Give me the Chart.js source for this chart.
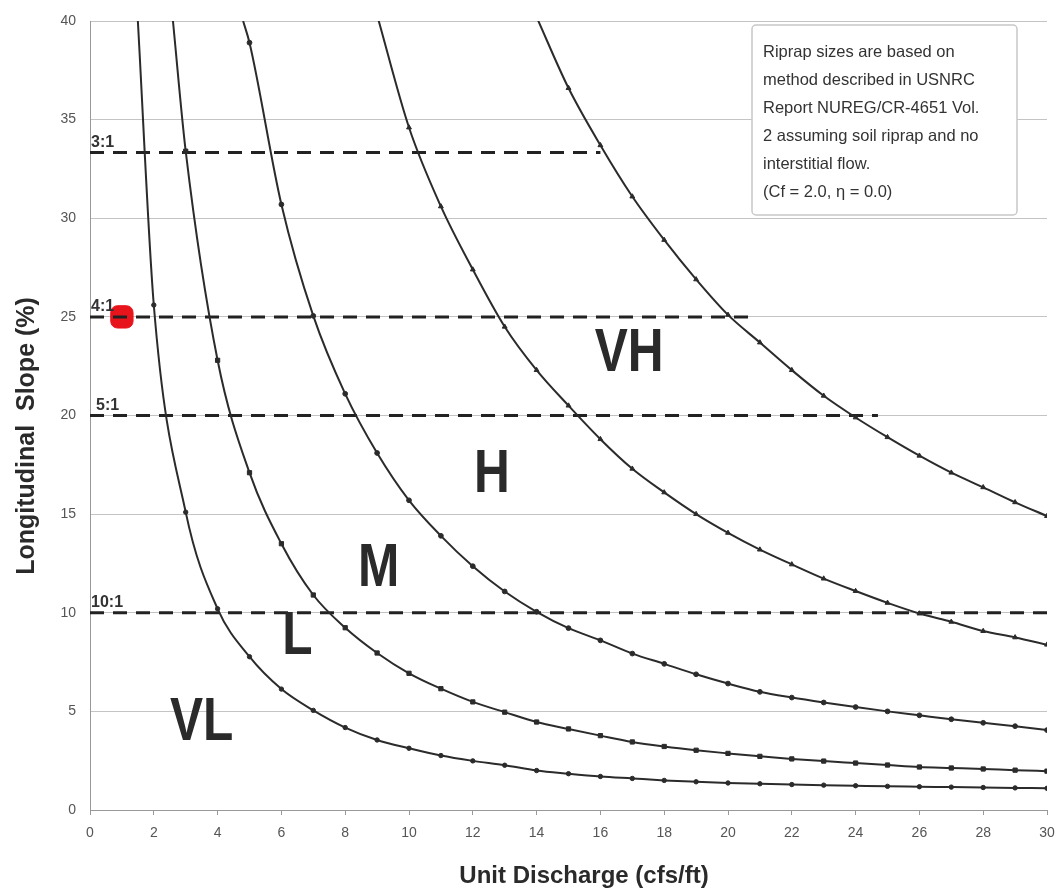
<!DOCTYPE html>
<html lang="en">
  <head>
    <meta charset="UTF-8" />
    <title>Riprap Size Chart</title>
    <script src="https://cdn.jsdelivr.net/npm/chart.js"></script>
    <style>
      html, body { margin: 0; padding: 0; background: #fff; overflow: hidden; }
      canvas { display: block; }
    </style>
  </head>
  <body>
    <canvas id="riprapChart" width="1056" height="891"></canvas>

    <script>
      // unit discharge (cfs/ft) at the curve markers
      const unitDischarge = [1, 2, 3, 4, 5, 6, 7, 8, 9, 10, 11, 12, 13, 14, 15,
        16, 17, 18, 19, 20, 21, 22, 23, 24, 25, 26, 27, 28, 29, 30];

      // longitudinal slope (%) of each size boundary
      const vlBoundary = [null, 25.6, 15.1, 10.2, 7.77, 6.13, 5.05, 4.18, 3.55, 3.13,
        2.76, 2.49, 2.27, 2.0, 1.84, 1.7, 1.6, 1.5, 1.43, 1.37,
        1.33, 1.29, 1.26, 1.23, 1.2, 1.18, 1.16, 1.14, 1.12, 1.1];
      const lBoundary = [null, null, 33.4, 22.8, 17.1, 13.5, 10.9, 9.24, 7.96, 6.93,
        6.15, 5.48, 4.96, 4.46, 4.11, 3.77, 3.45, 3.22, 3.03, 2.87,
        2.72, 2.59, 2.48, 2.38, 2.28, 2.18, 2.13, 2.08, 2.02, 1.97];
      const mBoundary = [null, null, null, null, 38.9, 30.7, 25.05, 21.1, 18.1, 15.7,
        13.9, 12.36, 11.08, 10.05, 9.22, 8.6, 7.93, 7.41, 6.88, 6.41,
        5.99, 5.7, 5.45, 5.22, 5.0, 4.8, 4.6, 4.42, 4.25, 4.05];
      const hBoundary = [null, null, null, null, null, null, null, null, 40.3, 34.6,
        30.6, 27.4, 24.5, 22.3, 20.5, 18.8, 17.3, 16.1, 15.0, 14.05,
        13.2, 12.45, 11.73, 11.1, 10.5, 9.96, 9.54, 9.07, 8.75, 8.38];
      const vhBoundary = [null, null, null, null, null, null, null, null, null, null,
        null, null, null, 40.2, 36.6, 33.7, 31.1, 28.9, 26.9, 25.1,
        23.7, 22.3, 21.0, 19.9, 18.9, 17.96, 17.1, 16.36, 15.6, 14.9];
      // where the steep curves leave the top of the plot (slope = 40 %)
      const topEdgeQ = [1.5, 2.6, 4.8, null, null];

      // side slope ratio lines
      const ratioLabels = ["3:1", "4:1", "5:1", "10:1"];
      const ratioSlopes = [33.33, 25, 20, 10];
      const ratioEndQ = [16, 20.9, 24.7, 30];

      // size class labels and their anchor (q, slope)
      const regionNames = ["VL", "L", "M", "H", "VH"];
      const regionAt = [[3.5, 4.4], [6.5, 8.8], [9.05, 12.2], [12.6, 17.0], [16.9, 23.1]];

      const markedPoint = { x: 1.0, y: 25 };

      const noteLines = [
        "Riprap sizes are based on",
        "method described in USNRC",
        "Report NUREG/CR-4651 Vol.",
        "2 assuming soil riprap and no",
        "interstitial flow.",
        "(Cf = 2.0, \u03b7 = 0.0)",
      ];

      const yMax = 40;
      const ink = "#2b2b2b";

      Chart.defaults.font.family = "'Liberation Sans', Arial, sans-serif";

      function curvePoints(values, topQ) {
        const pts = [];
        if (topQ != null) pts.push({ x: topQ, y: yMax });
        values.forEach((v, i) => {
          if (v !== null) pts.push({ x: unitDischarge[i], y: v });
        });
        return pts;
      }

      const curves = [vlBoundary, lBoundary, mBoundary, hBoundary, vhBoundary];
      const markerStyle = ["circle", "rect", "circle", "triangle", "triangle"];
      const markerSize = [2.2, 3, 2.4, 2.8, 2.8];

      const datasets = curves.map((vals, i) => ({
        label: "boundary " + (i + 1),
        data: curvePoints(vals, topEdgeQ[i]),
        borderColor: ink,
        backgroundColor: ink,
        borderWidth: 2,
        cubicInterpolationMode: "monotone",
        pointStyle: markerStyle[i],
        pointRadius: (c) => (c.raw && Number.isInteger(c.raw.x) ? markerSize[i] : 0),
        pointBorderWidth: 1,
      }));

      ratioSlopes.forEach((s, i) => {
        datasets.push({
          label: ratioLabels[i],
          data: [{ x: 0, y: s }, { x: ratioEndQ[i], y: s }],
          borderColor: "#222",
          borderWidth: 3,
          borderDash: [14, 9],
          pointRadius: 0,
          tension: 0,
        });
      });

      datasets.push({
        label: "marked",
        data: [markedPoint],
        showLine: false,
        pointStyle: "rectRounded",
        pointRadius: 13,
        backgroundColor: "#e8141b",
        borderColor: "#e8141b",
      });

      const annotations = {
        id: "annotations",
        afterDatasetsDraw(chart) {
          const { ctx, chartArea: area, scales: { x, y } } = chart;
          ctx.save();

          // ratio labels sitting on the dashed lines
          ctx.fillStyle = "#333";
          ctx.font = "bold 16px 'Liberation Sans', Arial, sans-serif";
          ctx.textBaseline = "bottom";
          ctx.textAlign = "left";
          ratioLabels.forEach((t, i) => {
            const dx = t === "5:1" ? 6 : 1;
            ctx.fillText(t, x.getPixelForValue(0) + dx, y.getPixelForValue(ratioSlopes[i]) - 2);
          });

          // size class labels
          ctx.fillStyle = "#2a2a2a";
          ctx.font = "bold 62px 'Liberation Sans', Arial, sans-serif";
          ctx.textAlign = "center";
          ctx.textBaseline = "middle";
          regionNames.forEach((t, i) => {
            const px = x.getPixelForValue(regionAt[i][0]);
            const py = y.getPixelForValue(regionAt[i][1]);
            ctx.save();
            ctx.translate(px, py);
            ctx.scale(0.8, 1);
            ctx.fillText(t, 0, 0);
            ctx.restore();
          });

          // note box
          const bx = area.right - 295, by = area.top + 4, bw = 265, bh = 190;
          ctx.fillStyle = "#fff";
          ctx.strokeStyle = "#c8c8c8";
          ctx.lineWidth = 1.5;
          ctx.beginPath();
          ctx.roundRect(bx, by, bw, bh, 4);
          ctx.fill();
          ctx.stroke();
          ctx.fillStyle = "#333";
          ctx.font = "16.5px 'Liberation Sans', Arial, sans-serif";
          ctx.textAlign = "left";
          ctx.textBaseline = "middle";
          noteLines.forEach((t, i) => ctx.fillText(t, bx + 11, by + 27 + i * 28));

          // axis titles
          ctx.fillStyle = "#2a2a2a";
          ctx.font = "bold 24px 'Liberation Sans', Arial, sans-serif";
          ctx.textAlign = "center";
          ctx.textBaseline = "middle";
          ctx.fillText("Unit Discharge (cfs/ft)", 584, 876);
          ctx.save();
          ctx.translate(27, 436);
          ctx.rotate(-Math.PI / 2);
          ctx.font = "bold 25px 'Liberation Sans', Arial, sans-serif";
          ctx.fillText("Longitudinal  Slope (%)", 0, 0);
          ctx.restore();

          ctx.restore();
        },
      };

      const ctx = document.getElementById("riprapChart").getContext("2d");
      new Chart(ctx, {
        type: "line",
        data: { datasets },
        options: {
          responsive: false,
          animation: false,
          layout: { autoPadding: false, padding: { top: 21, right: 9, left: 0, bottom: 0 } },
          plugins: { legend: { display: false }, tooltip: { enabled: false } },
          scales: {
            x: {
              type: "linear",
              min: 0,
              max: 30,
              ticks: { stepSize: 2, color: "#555", font: { size: 14 }, padding: 10 },
              grid: { drawOnChartArea: false, tickLength: 5, color: "#999" },
              border: { color: "#999" },
              afterFit: (s) => {
                s.height = 81;
                s.paddingLeft = 0;
                s.paddingRight = 0;
              },
            },
            y: {
              min: 0,
              max: yMax,
              ticks: { stepSize: 5, color: "#555", font: { size: 14 }, padding: 14 },
              grid: { color: "#c4c4c4", drawTicks: false },
              border: { color: "#999" },
              afterFit: (s) => {
                s.width = 90;
                s.paddingTop = 0;
                s.paddingBottom = 0;
              },
            },
          },
        },
        plugins: [annotations],
      });
    </script>
  </body>
</html>
